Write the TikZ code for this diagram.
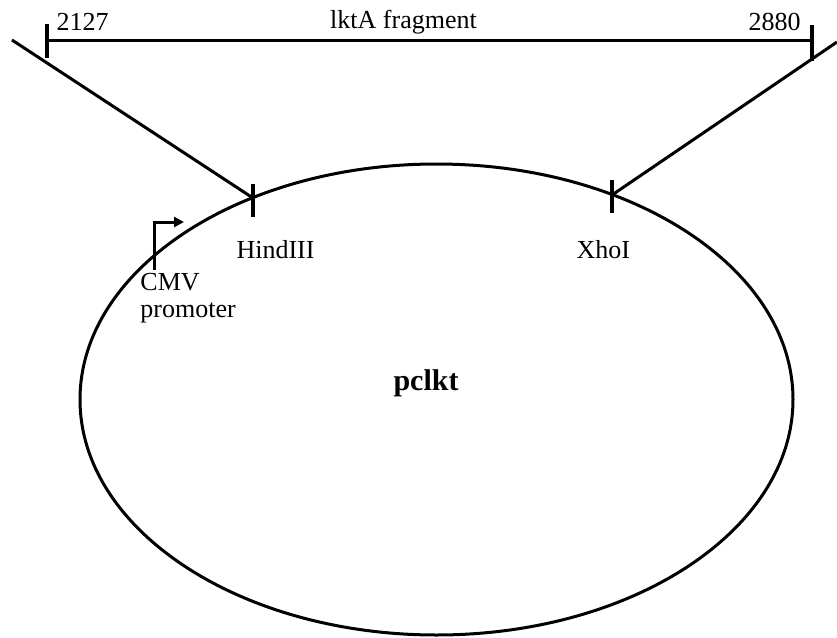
\documentclass[tikz,border=0pt]{standalone}
\usepackage{fontspec}
\setmainfont{Liberation Serif}
\usetikzlibrary{shapes.geometric,arrows.meta}
\begin{document}
\begin{tikzpicture}
	[x=0.5pt,y=-0.5pt,line width=1.5pt,
	mylabel/.style={inner sep=0pt,font=\fontsize{13}{13.5}\selectfont},
	mytick/.style={line width=1.7pt},
	myplasmid/.style={ellipse,draw,inner sep=0pt,minimum width=356.5pt,minimum height=235.5pt}]
	\useasboundingbox (0,0) rectangle (837,638);
	% plasmid
	\node[myplasmid,name=plasmid] at (436.5,399.5) {};
	\node[mylabel,name=name,anchor=base west,font=\fontsize{15}{15}\selectfont\bfseries] at (392,390) {pclkt};
	% fragment bar and its end points
	\coordinate (f1) at (47,40);
	\coordinate (f2) at (812,40);
	\coordinate (o1) at (12,40);
	\coordinate (o2) at (837,42);
	\coordinate (h) at (253,198);
	\coordinate (x) at (612,195);
	\draw (f1) -- (f2);
	\draw[mytick] ([yshift=8pt]f1) -- ([yshift=-9pt]f1);
	\draw[mytick] ([yshift=7.5pt]f2) -- ([yshift=-10.5pt]f2);
	\node[mylabel,name=l1,anchor=base west] at (55,30) {2127};
	\node[mylabel,name=l2,anchor=base] at (403.5,28) {lktA fragment};
	\node[mylabel,name=l3,anchor=base east] at (802,30) {2880};
	% insertion lines and sites
	\draw (o1) -- (h);
	\draw (o2) -- (x);
	\draw[mytick] ([yshift=7pt]h) -- ([yshift=-9.5pt]h);
	\draw[mytick] ([yshift=7.5pt]x) -- ([yshift=-9pt]x);
	\node[mylabel,name=s1,anchor=base west] at (235,258) {HindIII};
	\node[mylabel,name=s2,anchor=base west] at (575,258) {XhoI};
	% promoter
	\coordinate (p) at (154,270);
	\coordinate (q) at (184,222);
	\draw[-{Triangle[length=5pt,width=5pt]}] (p) |- (q);
	\node[mylabel,name=s3,anchor=base west,align=left] at (139,317) {CMV\\promoter};
\end{tikzpicture}
\end{document}
